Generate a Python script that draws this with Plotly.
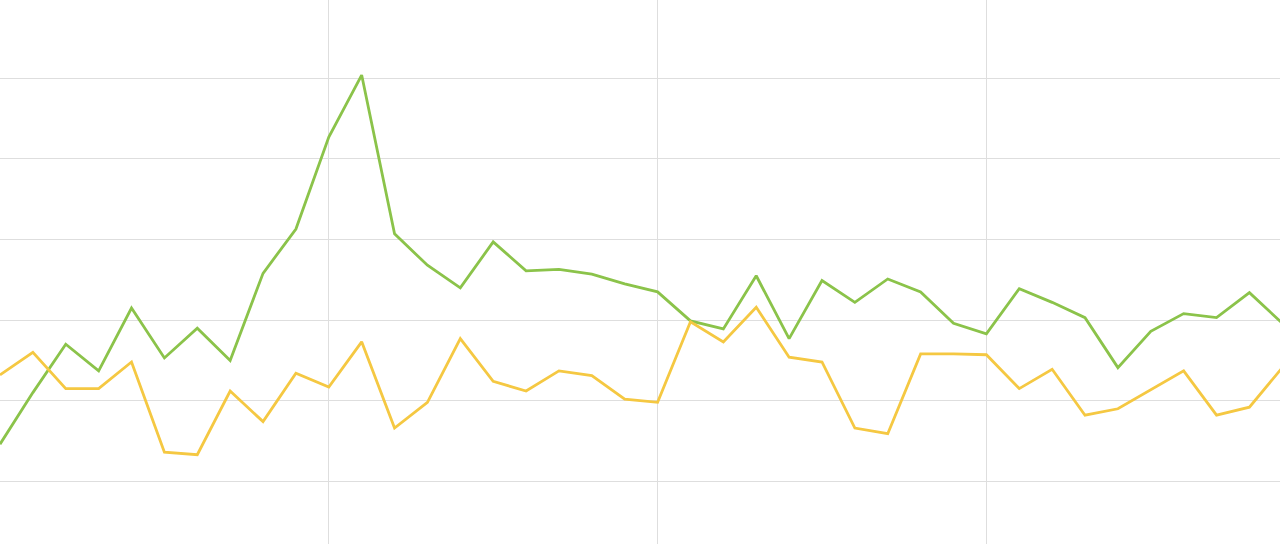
import plotly.graph_objects as go

x_index = list(range(40))

green_values = [14.6, 21.0, 27.0, 23.7, 31.5, 25.3, 29.0, 25.0, 35.8, 41.3,
                52.7, 60.4, 40.7, 36.8, 34.0, 39.7, 36.1, 36.3, 35.7, 34.5,
                33.5, 29.9, 28.9, 35.5, 27.7, 34.9, 32.2, 35.1, 33.5, 29.6,
                28.3, 33.9, 32.2, 30.3, 24.1, 28.6, 30.8, 30.3, 33.4, 29.6]

yellow_values = [23.2, 26.0, 21.5, 21.5, 24.8, 13.6, 13.3, 21.2, 17.4, 23.4,
                 21.7, 27.3, 16.6, 19.8, 27.7, 22.4, 21.2, 23.7, 23.1, 20.2,
                 19.8, 29.8, 27.3, 31.6, 25.4, 24.8, 16.6, 15.9, 25.8, 25.8,
                 25.7, 21.5, 23.9, 18.2, 19.0, 21.3, 23.7, 18.2, 19.2, 24.1]

x_grid = [10, 20, 30]
y_grid = [10, 20, 30, 40, 50, 60]

fig = go.Figure()
fig.add_trace(go.Scatter(x=x_index, y=green_values, mode="lines",
                         line=dict(color="#8bc34a", width=2.8), hoverinfo="skip"))
fig.add_trace(go.Scatter(x=x_index, y=yellow_values, mode="lines",
                         line=dict(color="#f5c842", width=2.8), hoverinfo="skip"))

fig.update_layout(
    width=1280, height=544,
    margin=dict(l=0, r=0, t=0, b=0),
    paper_bgcolor="white", plot_bgcolor="white",
    showlegend=False,
    xaxis=dict(range=[0, 38.93], tickvals=x_grid, showticklabels=False,
               showgrid=True, gridcolor="#dedede", gridwidth=1.2,
               zeroline=False, showline=False, fixedrange=True),
    yaxis=dict(range=[2.22, 69.71], tickvals=y_grid, showticklabels=False,
               showgrid=True, gridcolor="#dedede", gridwidth=1.2,
               zeroline=False, showline=False, fixedrange=True),
)

fig.write_html("out.html", config={"displayModeBar": False},
               post_script="document.body.style.margin='0';document.body.style.overflow='hidden';")
